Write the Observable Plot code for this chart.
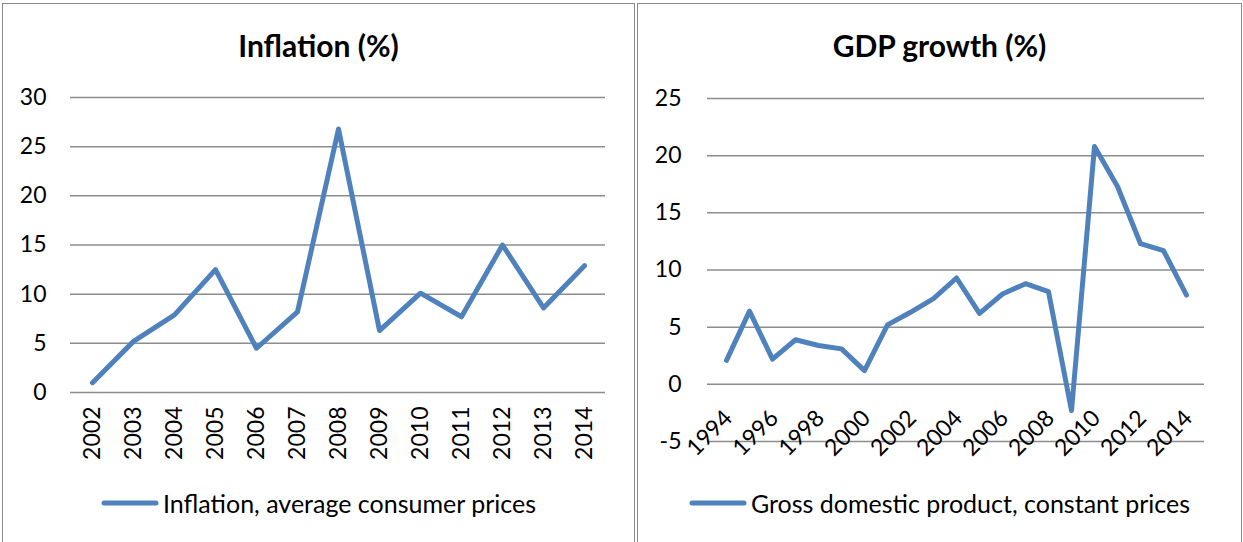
<!DOCTYPE html>
<html>
<head>
<meta charset="utf-8">
<script src="https://cdn.jsdelivr.net/npm/d3@7"></script>
<script src="https://cdn.jsdelivr.net/npm/@observablehq/plot@0.6"></script>
<style>
  html, body { margin: 0; padding: 0; background: #fff; }
  body { width: 1243px; height: 542px; overflow: hidden; position: relative; font-family: Lato, "Noto Sans", sans-serif; color: #000; }
  .panel { position: absolute; top: 3px; height: 600px; border: 1.5px solid #8a8a8a; box-sizing: border-box; }
  .title { position: absolute; top: 26px; text-align: center; font-weight: bold; font-size: 30px; line-height: 38px; }
  .chart { position: absolute; top: 70px; }
  .legend { position: absolute; top: 487px; height: 32px; display: flex; align-items: center; justify-content: center; font-size: 25px; }
  .legend svg { margin-right: 4px; }
</style>
</head>
<body>
<script>
// ---- Data ----
const inflationYears = ["2002","2003","2004","2005","2006","2007","2008","2009","2010","2011","2012","2013","2014"];
const inflationValues = [1.0, 5.2, 7.9, 12.5, 4.5, 8.2, 26.8, 6.3, 10.1, 7.7, 15.0, 8.6, 12.9];
const inflationTicks = [0, 5, 10, 15, 20, 25, 30];

const gdpYears = ["1994","1995","1996","1997","1998","1999","2000","2001","2002","2003","2004","2005","2006","2007","2008","2009","2010","2011","2012","2013","2014"];
const gdpValues = [2.1, 6.4, 2.2, 3.9, 3.4, 3.1, 1.2, 5.2, 6.3, 7.5, 9.3, 6.2, 7.9, 8.8, 8.1, -2.3, 20.8, 17.3, 12.3, 11.7, 7.8];
const gdpTicks = [-5, 0, 5, 10, 15, 20, 25];
const gdpLabelYears = ["1994","1996","1998","2000","2002","2004","2006","2008","2010","2012","2014"];

const lineColor = "#4f81bd";
const gridColor = "#8c8c8c";

function addEl(tag, cls, css, text) {
  const e = document.createElement(tag);
  if (cls) e.className = cls;
  Object.assign(e.style, css);
  if (text != null) e.textContent = text;
  document.body.appendChild(e);
  return e;
}

function legend(left, width, label) {
  const lg = addEl("div", "legend", {left: left + "px", width: width + "px"});
  const ns = "http://www.w3.org/2000/svg";
  const s = document.createElementNS(ns, "svg");
  s.setAttribute("width", 58); s.setAttribute("height", 10);
  const l = document.createElementNS(ns, "line");
  l.setAttribute("x1", 3); l.setAttribute("x2", 55); l.setAttribute("y1", 5); l.setAttribute("y2", 5);
  l.setAttribute("stroke", lineColor); l.setAttribute("stroke-width", 5); l.setAttribute("stroke-linecap", "round");
  s.appendChild(l);
  lg.appendChild(s);
  const t = document.createElement("span"); t.textContent = label; lg.appendChild(t);
}

// ---- Panels ----
addEl("div", "panel", {left: "2px", width: "633px"});
addEl("div", "panel", {left: "637px", width: "605px"});
addEl("div", "title", {left: "2px", width: "633px"}, "Inflation (%)");
addEl("div", "title", {left: "637px", width: "605px"}, "GDP growth (%)");

// ---- Inflation chart ----
const infData = inflationYears.map((y, i) => ({year: y, value: inflationValues[i]}));
const p1 = Plot.plot({
  width: 632, height: 400,
  marginLeft: 68, marginRight: 29, marginTop: 27, marginBottom: 78,
  style: {fontFamily: "Lato, 'Noto Sans', sans-serif", fontSize: "23px", color: "#000", background: "transparent"},
  x: {type: "point", domain: inflationYears, padding: 0.5, axis: null},
  y: {domain: [0, 30], axis: null},
  marks: [
    Plot.ruleY(inflationTicks, {stroke: gridColor, strokeWidth: 1.5}),
    Plot.text(inflationTicks, {y: d => d, text: d => String(d), textAnchor: "end", frameAnchor: "left", dx: -24, fill: "#000"}),
    Plot.text(inflationYears, {x: d => d, y: () => 0, text: d => d, rotate: -90, textAnchor: "end", dy: 14, fill: "#000"}),
    Plot.line(infData, {x: "year", y: "value", stroke: lineColor, strokeWidth: 5, strokeLinejoin: "round", strokeLinecap: "round"})
  ]
});
p1.classList.add("chart");
p1.style.left = "2px";
document.body.appendChild(p1);

// ---- GDP chart ----
const gdpData = gdpYears.map((y, i) => ({year: y, value: gdpValues[i]}));
const p2 = Plot.plot({
  width: 604, height: 400,
  marginLeft: 70, marginRight: 37, marginTop: 28, marginBottom: 29,
  style: {fontFamily: "Lato, 'Noto Sans', sans-serif", fontSize: "23px", color: "#000", background: "transparent"},
  x: {type: "point", domain: gdpYears, padding: 0.5, axis: null},
  y: {domain: [-5, 25], axis: null},
  marks: [
    Plot.ruleY(gdpTicks, {stroke: gridColor, strokeWidth: 1.5}),
    Plot.text(gdpTicks, {y: d => d, text: d => String(d), textAnchor: "end", frameAnchor: "left", dx: -26, fill: "#000"}),
    Plot.text(gdpLabelYears, {x: d => d, y: () => 0, text: d => d, rotate: -45, textAnchor: "end", dx: 2, dy: 30, fill: "#000"}),
    Plot.line(gdpData, {x: "year", y: "value", stroke: lineColor, strokeWidth: 5, strokeLinejoin: "round", strokeLinecap: "round"})
  ]
});
p2.classList.add("chart");
p2.style.left = "637px";
document.body.appendChild(p2);

legend(2, 633, "Inflation, average consumer prices");
legend(637, 605, "Gross domestic product, constant prices");
</script>
</body>
</html>
